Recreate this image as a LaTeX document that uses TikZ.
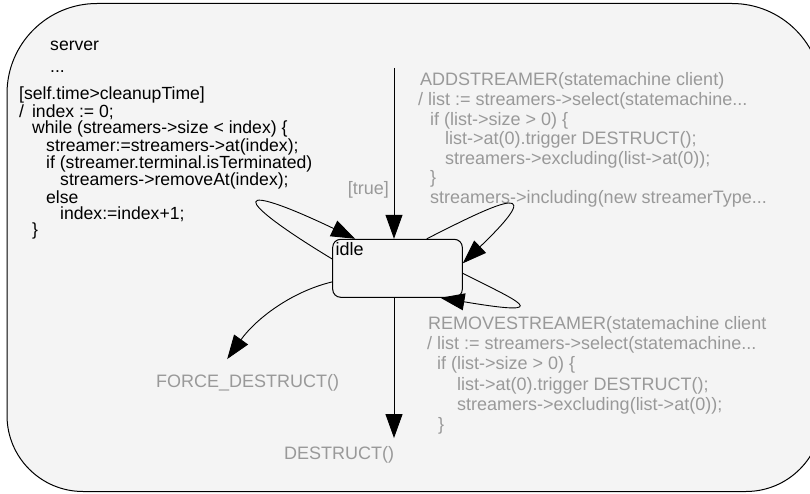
\documentclass[tikz,border=0pt]{standalone}
\usepackage{fontspec}
\setmainfont{Liberation Sans}
\usetikzlibrary{arrows.meta,calc}
\definecolor{panel}{HTML}{F4F4F4}
\definecolor{labelgray}{HTML}{999999}

\begin{document}
\begin{tikzpicture}[x=1pt,y=-1pt,
  conn/.style={draw=black, line width=0.9pt, -{Triangle[length=24pt,width=17pt]}},
  codeblk/.style={inner sep=0pt, align=left, anchor=base west, font=\fontsize{17.6}{16.2}\selectfont},
  guard/.style={codeblk, text=labelgray},
  event/.style={inner sep=0pt, anchor=base west, text=labelgray, font=\fontsize{18}{21.6}\selectfont},
  statebox/.style={draw=black, line width=1pt, rounded corners=8pt, fill=panel,
    minimum width=129.6pt, minimum height=58pt, inner sep=0pt}
]
\useasboundingbox (0,0) rectangle (810,494);

% enclosing super-state, its right side runs past the page edge;
% top corners are rounder than the bottom ones
\begin{scope}
  \clip (0,0) rectangle (810,494);
  \draw[fill=panel, line width=1pt]
    (400,3.5) [rounded corners=90pt] -- (822,3.5) -- (822,250)
    [rounded corners=76pt] -- (822,491.5) -- (7,491.5) -- (7,250)
    [rounded corners=90pt] -- (7,3.5) -- cycle;
\end{scope}

% state name and the internal cleanup transition
% (multi-line nodes are placed by the baseline of their last line)
\node[codeblk] (srv) at (50,50.7) {server};
\node[codeblk] (dots) at (50,72.7) {...};
\node[codeblk] (cleanup) at (19,235.6) {[self.time>cleanupTime]\\
/\hspace*{8pt}index := 0;\\
\hspace*{13pt}while (streamers->size < index) \{\\
\hspace*{27pt}streamer:=streamers->at(index);\\
\hspace*{27pt}if (streamer.terminal.isTerminated)\\
\hspace*{41pt}streamers->removeAt(index);\\
\hspace*{27pt}else\\
\hspace*{41pt}index:=index+1;\\
\hspace*{13pt}\}};

% the idle state
\node[statebox] (idle) at (397.5,268.3) {};
\node[inner sep=0pt, anchor=base west, font=\fontsize{18}{21.6}\selectfont] (idlename)
  at ([xshift=3.3pt,yshift=-16.7pt]idle.north west) {idle};

% transition labels
\node[guard, font=\fontsize{18}{19.6}\selectfont] (addlbl) at (418,203.6) {\hspace*{2pt}ADDSTREAMER(statemachine client)\\
/ list := streamers->select(statemachine...\\
\hspace*{12pt}if (list->size > 0) \{\\
\hspace*{27pt}list->at(0).trigger DESTRUCT();\\
\hspace*{27pt}streamers->excluding(list->at(0));\\
\hspace*{12pt}\}\\
\hspace*{12pt}streamers->including(new streamerType...};

\node[guard, font=\fontsize{18}{20.3}\selectfont] (remlbl) at (427,430.8) {\hspace*{1pt}REMOVESTREAMER(statemachine client\\
/ list := streamers->select(statemachine...\\
\hspace*{10pt}if (list->size > 0) \{\\
\hspace*{30pt}list->at(0).trigger DESTRUCT();\\
\hspace*{30pt}streamers->excluding(list->at(0));\\
\hspace*{11pt}\}};

\node[event, anchor=base east] (truelbl) at (389,195) {[true]};
\node[event] (force) at (156,387.5) {FORCE\_DESTRUCT()};
\node[event] (destruct) at (284,459) {DESTRUCT()};

% transitions
\coordinate (entry) at (394,68);
\draw[conn] (entry) -- (entry |- idle.north);
\draw[conn] (entry |- idle.south) -- ($(entry |- destruct.north)+(0,-7.7)$);
\draw[conn] ([yshift=9.3pt]idle.west) .. controls (228,196) and (232,180) .. ([xshift=23pt]idle.north west);
\draw[conn] ([xshift=29.2pt]idle.north) .. controls (480,212) and (560,170) .. ([yshift=5pt]idle.east);
\draw[conn] ([yshift=-5pt]idle.east) .. controls (515,300) and (560,318) .. ([xshift=-22.3pt]idle.south east);
\draw[conn] ([yshift=-13.6pt]idle.west) .. controls (290,292) and (255,320) .. ($(force.north)+(-20.5,-15.2)$);
\end{tikzpicture}
\end{document}
